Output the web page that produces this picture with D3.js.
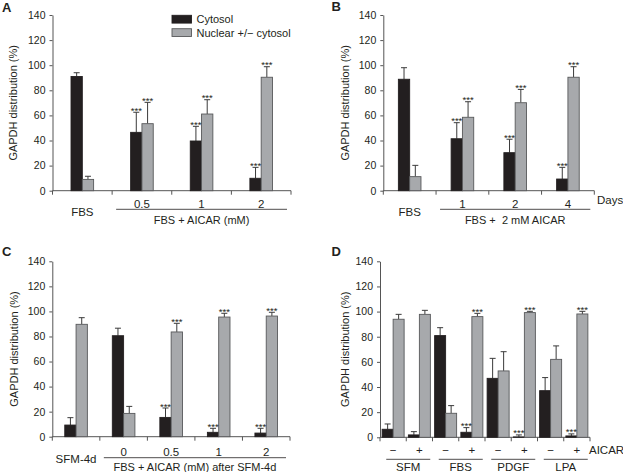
<!DOCTYPE html>
<html><head><meta charset="utf-8">
<script src="https://cdn.jsdelivr.net/npm/d3@7"></script>
<style>body{margin:0;background:#fff}svg{display:block}</style>
</head><body><svg id="chart" width="623" height="472"></svg>
<script>
// ---------- data ----------
const yTicks = [0, 20, 40, 60, 80, 100, 120, 140];
const seriesNames = ["Cytosol", "Nuclear +/\u2212 cytosol"];

const aCategories = ["FBS", "0.5", "1", "2"];
const aCytosol = [91, 46.5, 39.6, 9.9];
const aCytosolErr = [3, 16, 11.7, 8.7];
const aNuclear = [9, 53.4, 61.1, 90.4];
const aNuclearErr = [2.5, 17, 11.4, 8.4];
const aSignificant = [false, true, true, true];
const aGroupLabel = "FBS + AICAR (mM)";

const bCategories = ["FBS", "1", "2", "4"];
const bCytosol = [88.8, 41.4, 30.3, 9.3];
const bCytosolErr = [9.2, 12.8, 10.7, 9.3];
const bNuclear = [11.2, 58.5, 70.1, 90.4];
const bNuclearErr = [9, 12.4, 10.6, 8.4];
const bSignificant = [false, true, true, true];
const bGroupLabel = "FBS +\u00a0 2 mM AICAR";
const bUnitLabel = "Days";

const cCategories = ["SFM-4d", "0", "0.5", "1", "2"];
const cCytosol = [9.3, 80.6, 15.4, 3.5, 2.9];
const cCytosolErr = [5.9, 6, 7.5, 3.2, 3.8];
const cNuclear = [89.7, 18.6, 83.6, 95.5, 96.3];
const cNuclearErr = [5.3, 5.6, 6.9, 3, 3];
const cSignificant = [false, false, true, true, true];
const cGroupLabel = "FBS + AICAR (mM) after SFM-4d";

const dCategories = ["SFM-", "SFM+", "FBS-", "FBS+", "PDGF-", "PDGF+", "LPA-", "LPA+"];
const dTreatment = ["\u2212", "+", "\u2212", "+", "\u2212", "+", "\u2212", "+"];
const dGroups = ["SFM", "FBS", "PDGF", "LPA"];
const dCytosol = [6.4, 1.9, 80.9, 4, 46.9, 0.3, 37.1, 1.1];
const dCytosolErr = [4.2, 2.6, 6.3, 3.7, 15.9, 1.6, 10.4, 1.6];
const dNuclear = [93.9, 97.8, 19.1, 96, 52.8, 99.2, 62, 98.1];
const dNuclearErr = [3.9, 3.2, 6.1, 2.6, 15.3, 1, 10.7, 2.1];
const dSignificant = [false, false, false, true, false, true, false, true];
const dTreatmentLabel = "AICAR";

const yTitle = "GAPDH distribution (%)";

// ---------- style ----------
const FONT = "'Liberation Sans', Arial, Helvetica, sans-serif";
const textColor = "#231f20";
const axisColor = "#555";
const cytoFill = "#231f20";
const nucFill = "#a7a9ac";
const nucStroke = "#58595b";
const errColor = "#3a3a3a";

const svg = d3.select("#chart");
svg.append("rect").attr("width", 623).attr("height", 472).attr("fill", "#fff");

function txt(g, x, y, s, size, anchor, weight) {
  return g.append("text").attr("x", x).attr("y", y).text(s)
    .attr("font-family", FONT).attr("font-size", size)
    .attr("text-anchor", anchor || "middle").attr("fill", textColor)
    .attr("font-weight", weight || "normal");
}

function drawPanel(p) {
  const g = svg.append("g");
  const x = d3.scaleBand().domain(p.categories).range([p.x0, p.x1]);
  const y = d3.scaleLinear().domain([0, 140]).range([p.yBottom, p.yTop]);

  txt(g, p.letterX, p.letterY, p.letter, 13, "start", "bold");

  const ya = g.append("g").attr("transform", `translate(${p.x0},0)`)
    .call(d3.axisLeft(y).tickValues(yTicks).tickSize(3).tickSizeOuter(0).tickPadding(4));
  ya.attr("font-family", FONT).attr("font-size", 10.5);
  ya.select(".domain").attr("stroke", axisColor);
  ya.selectAll(".tick line").attr("stroke", axisColor);
  ya.selectAll(".tick text").attr("fill", textColor);

  g.append("text").attr("transform", `translate(${p.titleX},${(p.yTop + p.yBottom) / 2}) rotate(-90)`)
    .attr("text-anchor", "middle").attr("font-family", FONT).attr("font-size", 11)
    .attr("fill", textColor).text(yTitle);

  g.append("line").attr("x1", p.x0).attr("x2", p.x1).attr("y1", p.yBottom).attr("y2", p.yBottom)
    .attr("stroke", axisColor);
  const bounds = p.categories.map(c => x(c)).concat([p.x1]);
  g.selectAll(".xt").data(bounds).join("line")
    .attr("x1", d => d).attr("x2", d => d)
    .attr("y1", p.yBottom).attr("y2", p.yBottom + 4).attr("stroke", axisColor);

  const bw = p.barW;
  const rows = p.categories.map((c, i) => ({
    c, i, cx: x(c) + x.bandwidth() / 2,
    cyto: p.cytosol[i], cytoErr: p.cytosolErr[i],
    nuc: p.nuclear[i], nucErr: p.nuclearErr[i], sig: p.significant[i]
  }));

  const bars = [];
  rows.forEach(r => {
    bars.push({ cx: r.cx - bw / 2, left: r.cx - bw, v: r.cyto, e: r.cytoErr, sig: r.sig, type: 0 });
    bars.push({ cx: r.cx + bw / 2, left: r.cx, v: r.nuc, e: r.nucErr, sig: r.sig, type: 1 });
  });

  g.selectAll(".eb").data(bars).join("line")
    .attr("x1", d => d.cx).attr("x2", d => d.cx)
    .attr("y1", d => y(d.v)).attr("y2", d => y(d.v + d.e))
    .attr("stroke", errColor).attr("stroke-width", 1);
  g.selectAll(".ec").data(bars).join("line")
    .attr("x1", d => d.cx - 3).attr("x2", d => d.cx + 3)
    .attr("y1", d => y(d.v + d.e)).attr("y2", d => y(d.v + d.e))
    .attr("stroke", errColor).attr("stroke-width", 1);

  g.selectAll(".bar").data(bars).join("rect")
    .attr("x", d => d.left).attr("width", bw)
    .attr("y", d => y(d.v)).attr("height", d => Math.max(0, y(0) - y(d.v)))
    .attr("fill", d => d.type === 0 ? cytoFill : nucFill)
    .attr("stroke", d => d.type === 0 ? cytoFill : nucStroke)
    .attr("stroke-width", 0.9);

  g.selectAll(".sig").data(bars.filter(d => d.sig)).join("text")
    .attr("x", d => d.cx).attr("y", d => y(d.v + d.e) + 1.5)
    .attr("text-anchor", "middle").attr("font-family", FONT).attr("font-size", 9.5)
    .attr("fill", textColor).text("***");

  return { g, x, y };
}

function conditionLabels(p, sc) {
  const g = sc.g, x = sc.x;
  const bw2 = x.bandwidth() / 2;
  txt(g, x(p.categories[0]) + bw2, p.yBottom + p.controlDy, p.categories[0], 11.5);
  p.categories.slice(1).forEach(c => txt(g, x(c) + bw2, p.yBottom + p.labelDy, c, 11.5));
  const lx0 = x(p.categories[1]) + 4, lx1 = p.x1 - 4;
  g.append("line").attr("x1", lx0).attr("x2", lx1)
    .attr("y1", p.yBottom + p.lineDy).attr("y2", p.yBottom + p.lineDy)
    .attr("stroke", textColor).attr("stroke-width", 0.8);
  txt(g, (lx0 + lx1) / 2, p.yBottom + p.mainDy, p.groupLabel, 11);
}

const pA = { letter: "A", letterX: 2, letterY: 12, x0: 52.5, x1: 291, yTop: 15, yBottom: 190.7,
  titleX: 17, barW: 11.3, categories: aCategories, cytosol: aCytosol, cytosolErr: aCytosolErr,
  nuclear: aNuclear, nuclearErr: aNuclearErr, significant: aSignificant,
  labelDy: 16.8, controlDy: 25, lineDy: 18.6, mainDy: 33.3, groupLabel: aGroupLabel };
const sA = drawPanel(pA);
conditionLabels(pA, sA);

const leg = sA.g.append("g");
seriesNames.forEach((s, i) => {
  leg.append("rect").attr("x", 172).attr("y", 15.3 + i * 13.4).attr("width", 19.5).attr("height", 7.8)
    .attr("fill", i === 0 ? cytoFill : nucFill).attr("stroke", i === 0 ? cytoFill : nucStroke).attr("stroke-width", 0.9);
  txt(leg, 196.5, 23.3 + i * 13.4, s, 11, "start");
});

const pB = { letter: "B", letterX: 331.5, letterY: 11, x0: 383.3, x1: 594.3, yTop: 15, yBottom: 190.7,
  titleX: 349, barW: 11.3, categories: bCategories, cytosol: bCytosol, cytosolErr: bCytosolErr,
  nuclear: bNuclear, nuclearErr: bNuclearErr, significant: bSignificant,
  labelDy: 16.8, controlDy: 25, lineDy: 18.6, mainDy: 33.3, groupLabel: bGroupLabel };
const sB = drawPanel(pB);
conditionLabels(pB, sB);
txt(sB.g, 597, 204, bUnitLabel, 11.5, "start");

const pC = { letter: "C", letterX: 2, letterY: 256, x0: 52.3, x1: 290, yTop: 261.3, yBottom: 436.7,
  titleX: 17.5, barW: 11.3, categories: cCategories, cytosol: cCytosol, cytosolErr: cCytosolErr,
  nuclear: cNuclear, nuclearErr: cNuclearErr, significant: cSignificant,
  labelDy: 19, controlDy: 26.3, lineDy: 21, mainDy: 33.8, groupLabel: cGroupLabel };
const sC = drawPanel(pC);
conditionLabels(pC, sC);

const pD = { letter: "D", letterX: 331.5, letterY: 256, x0: 380, x1: 590, yTop: 261.3, yBottom: 437.3,
  titleX: 349, barW: 11, categories: dCategories, cytosol: dCytosol, cytosolErr: dCytosolErr,
  nuclear: dNuclear, nuclearErr: dNuclearErr, significant: dSignificant };
const sD = drawPanel(pD);
{
  const g = sD.g, x = sD.x, bw2 = x.bandwidth() / 2;
  dCategories.forEach((c, i) => txt(g, x(c) + bw2, pD.yBottom + 16.7, dTreatment[i], 11.5));
  dGroups.forEach((grp, k) => {
    const a = x(dCategories[2 * k]), b = x(dCategories[2 * k + 1]) + x.bandwidth();
    const mid = (a + b) / 2 + 2;
    g.append("line").attr("x1", mid - 22).attr("x2", mid + 22)
      .attr("y1", pD.yBottom + 22).attr("y2", pD.yBottom + 22)
      .attr("stroke", textColor).attr("stroke-width", 0.8);
    txt(g, mid, pD.yBottom + 33.9, grp, 11.5);
  });
  txt(g, 589, pD.yBottom + 16.7, dTreatmentLabel, 11.5, "start");
}
</script></body></html>
